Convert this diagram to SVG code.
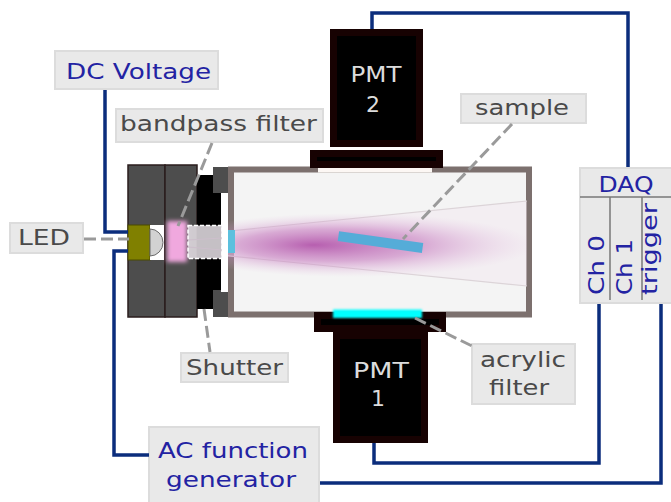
<svg xmlns="http://www.w3.org/2000/svg" width="671" height="502" viewBox="0 0 671 502">
  <style>
    .lbl { fill: #e9e9e9; stroke: #dcdcdc; stroke-width: 2; }
    .t { font-family: "DejaVu Sans", "Liberation Sans", sans-serif; font-size: 21px; }
    .blue { fill: #2323a3; }
    .gray { fill: #4a4a4a; }
    .pmt { fill: #dcdcdc; font-size: 22px; }
    .wire { fill: none; stroke: #0b2d7c; stroke-width: 3.5; stroke-linejoin: miter; }
    .ptr { fill: none; stroke: #9a9a9a; stroke-width: 3; stroke-dasharray: 12 5; }
    .block { fill: #4d4d4d; stroke: #2a1d1d; stroke-width: 1.5; }
    .pmtbody { fill: #000; stroke: #170202; stroke-width: 7; }
  </style>
  <defs>
    <radialGradient id="beam" cx="0.5" cy="0.5" r="0.5" fx="0.4" fy="0.5">
      <stop offset="0" stop-color="#b04fa8" stop-opacity="0.9"/>
      <stop offset="0.5" stop-color="#c272bb" stop-opacity="0.55"/>
      <stop offset="1" stop-color="#e2b8de" stop-opacity="0"/>
    </radialGradient>
    <filter id="soft" x="-40%" y="-30%" width="180%" height="160%">
      <feGaussianBlur stdDeviation="2.2"/>
    </filter>
    <filter id="glow" x="-10%" y="-50%" width="120%" height="200%">
      <feGaussianBlur stdDeviation="0.8"/>
    </filter>
    <clipPath id="inner">
      <rect x="160" y="172" width="367" height="140"/>
    </clipPath>
  </defs>

  <!-- sample chamber -->
  <g id="chamber">
    <rect x="231" y="169.5" width="298" height="145" fill="#f4f4f4" stroke="#7c706e" stroke-width="6"/>
    <rect x="318" y="166.5" width="114" height="6" fill="#fcf7f4"/>
  </g>

  <!-- light cone and beam -->
  <g id="beam-path" clip-path="url(#inner)">
    <polygon points="150,239 527,201 527,286 150,248" fill="#f1e6ef" opacity="0.45"/>
    <line x1="150" y1="239" x2="527" y2="201" stroke="#dcd4d8" stroke-width="1.2"/>
    <line x1="150" y1="248" x2="527" y2="286" stroke="#dcd4d8" stroke-width="1.2"/>
    <ellipse cx="350" cy="245" rx="185" ry="32" fill="url(#beam)"/>
  </g>

  <!-- LED housing -->
  <g id="housing">
    <rect class="block" x="128" y="165" width="37" height="152"/>
    <rect class="block" x="165" y="165" width="32" height="152"/>
    <rect x="197" y="175" width="16" height="134" fill="#000"/>
    <rect x="213" y="167" width="15" height="150" fill="#4d4d4d"/>
    <rect x="213" y="193" width="8" height="97" fill="#000"/>
    <rect x="221" y="193" width="7" height="99" fill="#fff"/>
  </g>

  <g id="LED">
    <rect x="128" y="225" width="22" height="35" fill="#808000" stroke="#4b4b00" stroke-width="1"/>
    <rect x="150" y="225" width="14" height="35" fill="#fff"/>
    <path d="M150,229 A13,13.5 0 0 1 150,256 Z" fill="#d2d2d2" stroke="#6a6a6a" stroke-width="1"/>
  </g>

  <g id="bandpass">
    <rect x="167" y="221" width="20" height="41" fill="#f0a8de" filter="url(#soft)"/>
  </g>

  <g id="shutter-window">
    <rect x="188" y="225.5" width="34" height="33" fill="#e7e2e7" fill-opacity="0.85" stroke="#ffffff" stroke-width="1.5" stroke-dasharray="4 2"/>
    <line x1="188" y1="240" x2="222" y2="238" stroke="#cdbfcc" stroke-width="1"/>
    <line x1="188" y1="247" x2="222" y2="250" stroke="#cdbfcc" stroke-width="1"/>
    <rect x="228" y="230" width="7" height="23" fill="#5bc0de"/>
  </g>

  <g id="sample">
    <rect x="338" y="237" width="85" height="10" fill="#55acd8" transform="rotate(8 380 242)"/>
  </g>

  <g id="PMT2">
    <rect class="pmtbody" x="333.5" y="32.5" width="86" height="111"/>
    <rect class="pmtbody" x="313.5" y="153.5" width="126" height="11"/>
    <text class="t pmt" x="376" y="82" text-anchor="middle" textLength="51" lengthAdjust="spacingAndGlyphs">PMT</text>
    <text class="t pmt" x="373" y="112" text-anchor="middle">2</text>
  </g>

  <g id="PMT1">
    <rect class="pmtbody" x="317.5" y="315.5" width="125" height="13"/>
    <rect x="333" y="309.5" width="89" height="8.5" fill="#00ffff" filter="url(#glow)"/>
    <rect class="pmtbody" x="336.5" y="335.5" width="88" height="104"/>
    <text class="t pmt" x="381" y="378" text-anchor="middle" textLength="56" lengthAdjust="spacingAndGlyphs">PMT</text>
    <text class="t pmt" x="378" y="406" text-anchor="middle">1</text>
  </g>

  <g id="DAQ">
    <rect class="lbl" x="580" y="168" width="100" height="135"/>
    <line x1="580" y1="197" x2="671" y2="197" stroke="#777" stroke-width="1.5"/>
    <line x1="610" y1="197" x2="610" y2="300" stroke="#777" stroke-width="1.5"/>
    <line x1="642" y1="197" x2="642" y2="300" stroke="#777" stroke-width="1.5"/>
    <text class="t blue" x="626" y="192" text-anchor="middle" textLength="55" lengthAdjust="spacingAndGlyphs" font-size="20">DAQ</text>
    <text class="t blue" transform="translate(604 295) rotate(-90)" textLength="60" lengthAdjust="spacingAndGlyphs">Ch 0</text>
    <text class="t blue" transform="translate(632 295) rotate(-90)" textLength="56" lengthAdjust="spacingAndGlyphs">Ch 1</text>
    <text class="t blue" transform="translate(657 295) rotate(-90)" textLength="92" lengthAdjust="spacingAndGlyphs" font-size="20">trigger</text>
  </g>

  <g id="dc-voltage">
    <rect class="lbl" x="55" y="51" width="163" height="38"/>
    <text class="t blue" x="66" y="79" textLength="145" lengthAdjust="spacingAndGlyphs">DC Voltage</text>
  </g>

  <g id="bandpass-label">
    <rect class="lbl" x="116" y="109" width="207" height="33"/>
    <text class="t gray" x="120" y="131" textLength="197" lengthAdjust="spacingAndGlyphs">bandpass filter</text>
  </g>

  <g id="led-label">
    <rect class="lbl" x="10" y="223" width="73" height="30"/>
    <text class="t gray" x="18" y="245" textLength="52" lengthAdjust="spacingAndGlyphs">LED</text>
  </g>

  <g id="sample-label">
    <rect class="lbl" x="461" y="94" width="125" height="29"/>
    <text class="t gray" x="475" y="115" textLength="94" lengthAdjust="spacingAndGlyphs">sample</text>
  </g>

  <g id="shutter-label">
    <rect class="lbl" x="181" y="353" width="107" height="29"/>
    <text class="t gray" x="186" y="375" textLength="97" lengthAdjust="spacingAndGlyphs">Shutter</text>
  </g>

  <g id="acrylic-label">
    <rect class="lbl" x="472" y="344" width="103" height="60"/>
    <text class="t gray" x="480" y="367" textLength="86" lengthAdjust="spacingAndGlyphs">acrylic</text>
    <text class="t gray" x="489" y="395" textLength="60" lengthAdjust="spacingAndGlyphs">filter</text>
  </g>

  <g id="ac-generator">
    <rect class="lbl" x="149" y="427" width="170" height="76"/>
    <text class="t blue" x="158" y="458" textLength="150" lengthAdjust="spacingAndGlyphs">AC function</text>
    <text class="t blue" x="166" y="487" textLength="130" lengthAdjust="spacingAndGlyphs">generator</text>
  </g>

  <!-- cabling and label pointers -->
  <g id="connectors">
    <polyline class="wire" points="105,90 105,232 128,232"/>
    <polyline class="wire" points="128,251 114,251 114,455 149,455"/>
    <polyline class="wire" points="320,483 661,483 661,304"/>
    <polyline class="wire" points="374,443 374,463 599,463 599,304"/>
    <polyline class="wire" points="372,29 372,13 628,13 628,167"/>
    <line class="ptr" x1="212" y1="143" x2="178" y2="226"/>
    <line class="ptr" x1="84" y1="239" x2="129" y2="239"/>
    <line class="ptr" x1="512" y1="124" x2="403" y2="239"/>
    <line class="ptr" x1="204" y1="309" x2="210" y2="352"/>
    <line class="ptr" x1="415" y1="318" x2="472" y2="346"/>
  </g>
</svg>
